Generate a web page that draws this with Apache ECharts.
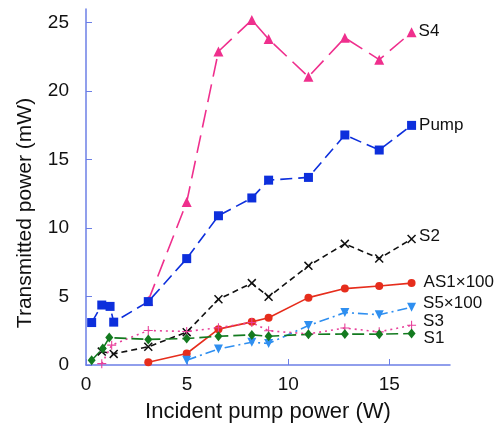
<!DOCTYPE html>
<html>
<head>
<meta charset="utf-8">
<script src="https://cdn.jsdelivr.net/npm/echarts@6/dist/echarts.min.js"></script>
<style>
  html, body { margin: 0; padding: 0; background: #fff; }
  #chart { width: 495px; height: 428px; }
</style>
</head>
<body>
<div id="chart"></div>
<script>
// values (x in W, y in mW)
const pumpX = [0.28, 0.78, 1.19, 1.37, 3.08, 4.98, 6.55, 8.2, 9.03, 11.0, 12.8, 14.5, 16.1];
const pumpY = [3.1, 4.38, 4.28, 3.13, 4.63, 7.77, 10.9, 12.2, 13.5, 13.7, 16.8, 15.7, 17.5];

const s4X = [3.08, 4.98, 6.55, 8.2, 9.03, 11.0, 12.8, 14.5, 16.1];
const s4Y = [4.7, 11.9, 22.9, 25.2, 23.8, 21.05, 23.9, 22.3, 24.3];

const s2X = [0.78, 1.37, 3.08, 4.98, 6.55, 8.2, 9.03, 11.0, 12.8, 14.5, 16.1];
const s2Y = [0.98, 0.81, 1.33, 2.4, 4.8, 5.98, 4.98, 7.24, 8.85, 7.78, 9.2];

const as1X = [3.08, 4.98, 6.55, 8.2, 9.03, 11.0, 12.8, 14.5, 16.1];
const as1Y = [0.2, 0.84, 2.62, 3.15, 3.45, 4.92, 5.58, 5.77, 5.98];

const s5X = [4.98, 6.55, 8.2, 9.03, 11.0, 12.8, 14.5, 16.1];
const s5Y = [0.35, 1.17, 1.66, 1.57, 2.88, 3.83, 3.67, 4.22];

const s3X = [0.78, 1.27, 3.08, 4.98, 6.55, 8.2, 9.03, 11.0, 12.8, 14.5, 16.1];
const s3Y = [0.1, 1.45, 2.52, 2.45, 2.72, 3.1, 2.5, 2.27, 2.7, 2.42, 2.9];

const s1X = [0.28, 0.83, 1.15, 3.08, 4.98, 6.55, 8.2, 9.03, 11.0, 12.8, 14.5, 16.1];
const s1Y = [0.35, 1.2, 2.0, 1.87, 1.93, 2.1, 2.2, 2.1, 2.24, 2.26, 2.25, 2.3];

const xTicks = [0, 5, 10, 15];
const yTicks = [0, 5, 10, 15, 20, 25];

const crossPath = 'path://M0,1.2L1.2,0L10,8.8L8.8,10Z M8.8,0L10,1.2L1.2,10L0,8.8Z';
const plusPath = 'path://M4.4,0H5.6V10H4.4Z M0,4.4H10V5.6H0Z';

const font = 'Liberation Sans, Arial, sans-serif';

function makeSeries(name, xs, ys, color, symbol, size, lineType, labelDist, labelDy, extra) {
  const data = xs.map((x, i) => [x, ys[i]]);
  const last = data.length - 1;
  data[last] = {
    value: data[last],
    label: {
      show: true,
      position: 'right',
      distance: labelDist,
      offset: [0, labelDy],
      formatter: name,
      color: '#111',
      fontSize: 17,
      fontFamily: font
    }
  };
  return Object.assign({
    name,
    type: 'line',
    data,
    symbol,
    symbolSize: size,
    showAllSymbol: true,
    itemStyle: { color },
    lineStyle: { color, width: 1.6, type: lineType },
    z: 2
  }, extra || {});
}

const chart = echarts.init(document.getElementById('chart'));
chart.setOption({
  animation: false,
  grid: { left: 86, right: 45, top: 9, bottom: 56, containLabel: false },
  xAxis: {
    type: 'value',
    min: 0,
    max: 18,
    interval: 5,
    name: 'Incident pump power (W)',
    nameLocation: 'middle',
    nameGap: 36,
    nameTextStyle: { fontSize: 22, color: '#111', fontFamily: font },
    splitLine: { show: false },
    axisLine: { lineStyle: { color: '#6c7fe6', width: 1.5 } },
    axisTick: { inside: true, length: 6, customValues: xTicks, lineStyle: { color: '#6c7fe6' } },
    axisLabel: { customValues: xTicks, margin: 10, fontSize: 19, color: '#111', fontFamily: font }
  },
  yAxis: {
    type: 'value',
    min: 0,
    max: 26,
    interval: 5,
    name: 'Transmitted power (mW)',
    nameLocation: 'middle',
    nameGap: 50,
    nameTextStyle: { fontSize: 21, color: '#111', fontFamily: font, padding: [0, 52, 0, 0] },
    splitLine: { show: false },
    axisLine: { show: true, lineStyle: { color: '#6c7fe6', width: 1.5 } },
    axisTick: { show: true, inside: true, length: 6, customValues: yTicks, lineStyle: { color: '#6c7fe6' } },
    axisLabel: { customValues: yTicks, margin: 17, fontSize: 19, color: '#111', fontFamily: font }
  },
  series: [
    makeSeries('S4', s4X, s4Y, '#ef2f8d', 'triangle', 10, [18, 8], 2, -1),
    makeSeries('Pump', pumpX, pumpY, '#0d2fdc', 'rect', 9, [12, 6], 3, 0),
    makeSeries('S2', s2X, s2Y, '#111111', crossPath, 9, [6, 4], 3, -3),
    makeSeries('AS1×100', as1X, as1Y, '#e62d1c', 'circle', 8, 'solid', 8, -1),
    makeSeries('S5×100', s5X, s5Y, '#2f8ff0', 'triangle', 9, [10, 4, 2, 4], 7, -4, { symbolRotate: 180 }),
    makeSeries('S3', s3X, s3Y, '#e8409a', plusPath, 9, [2, 4], 7, -4),
    makeSeries('S1', s1X, s1Y, '#137a1f', 'diamond', [8, 10], [12, 5], 8, 5)
  ]
});
</script>
</body>
</html>
